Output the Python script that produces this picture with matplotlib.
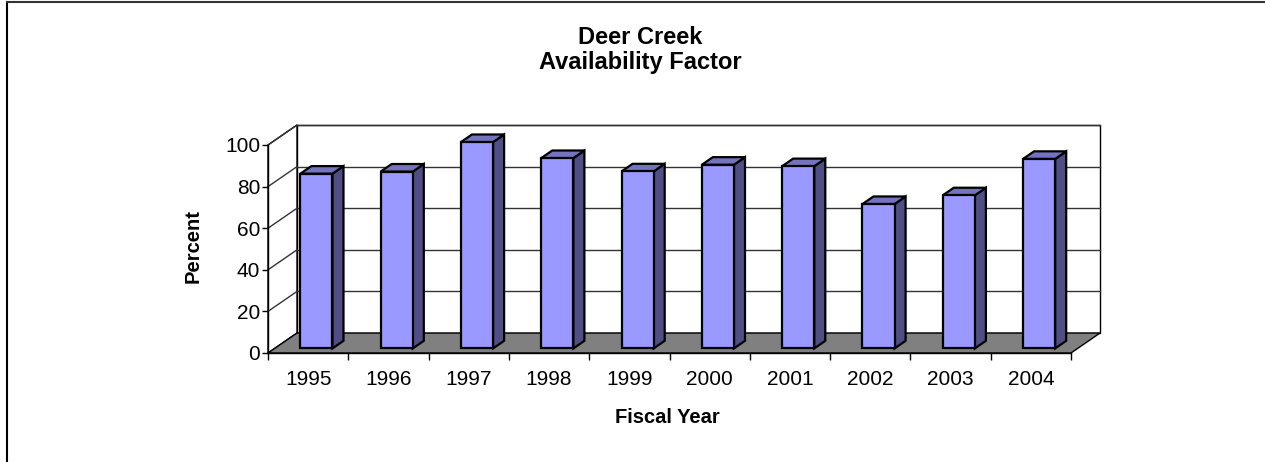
import matplotlib
matplotlib.use("Agg")
import matplotlib.pyplot as plt
from matplotlib.patches import Polygon
from matplotlib.lines import Line2D

# ---------------- DATA ----------------
years = ["1995", "1996", "1997", "1998", "1999", "2000", "2001", "2002", "2003", "2004"]
availability = [84.0, 85.0, 99.2, 91.5, 85.1, 88.3, 87.6, 69.4, 73.6, 91.1]
y_ticks = [0, 20, 40, 60, 80, 100]

title_1 = "Deer Creek"
title_2 = "Availability Factor"
x_title = "Fiscal Year"
y_title = "Percent"

# ---------------- STYLE ----------------
FRONT = "#9999ff"
TOP = "#7373bf"
SIDE = "#4f4f85"
FLOOR = "#808080"
GRID = "#333333"

DX = 0.361    # depth offset in category units
DY = 9.6      # depth offset in value units
D0, D1 = 0.23, 0.61   # bar depth (fraction of floor depth)
BAR_L, BAR_W = 0.32, 0.40

plt.rcParams["font.family"] = ["Liberation Sans", "DejaVu Sans"]

W, H = 1265, 462
fig = plt.figure(figsize=(W / 100, H / 100), dpi=100)
ax = fig.add_axes([268 / W, (H - 353) / H, 803 / W, 208 / H])
ax.set_facecolor("none")
ax.set_xlim(0, len(years))
ax.set_ylim(0, 100)


def proj(u, v, d):
    """oblique projection: category u, value v, depth d (0 front, 1 back)"""
    return (u + d * DX, v + d * DY)


def poly(pts, fc, z, lw=1.0, ec="black"):
    p = Polygon(pts, closed=True, facecolor=fc, edgecolor=ec, linewidth=lw,
                joinstyle="miter", clip_on=False, zorder=z)
    ax.add_patch(p)


n = len(years)
top_v = y_ticks[-1]

# back wall, side wall, floor
poly([proj(0, 0, 1), proj(n, 0, 1), proj(n, top_v, 1), proj(0, top_v, 1)], "white", 1, lw=1.0)
poly([proj(0, 0, 0), proj(0, 0, 1), proj(0, top_v, 1), proj(0, top_v, 0)], "white", 1, lw=1.0)
poly([proj(0, 0, 0), proj(n, 0, 0), proj(n, 0, 1), proj(0, 0, 1)], FLOOR, 2, lw=1.0)

# gridlines on back wall + side wall
for v in y_ticks[1:]:
    xs, ys = zip(proj(0, v, 1), proj(n, v, 1))
    ax.add_line(Line2D(xs, ys, color=GRID, lw=1.0, clip_on=False, zorder=1.5))
    xs, ys = zip(proj(0, v, 0), proj(0, v, 1))
    ax.add_line(Line2D(xs, ys, color=GRID, lw=1.0, clip_on=False, zorder=1.5))

# bars
for i, v in enumerate(availability):
    u0 = i + BAR_L
    u1 = u0 + BAR_W
    front = [proj(u0, 0, D0), proj(u1, 0, D0), proj(u1, v, D0), proj(u0, v, D0)]
    side = [proj(u1, 0, D0), proj(u1, 0, D1), proj(u1, v, D1), proj(u1, v, D0)]
    top = [proj(u0, v, D0), proj(u1, v, D0), proj(u1, v, D1), proj(u0, v, D1)]
    poly(side, SIDE, 5, lw=1.6)
    poly(top, TOP, 5, lw=1.6)
    poly(front, FRONT, 6, lw=1.6)

# axes / ticks
for s in ("top", "right"):
    ax.spines[s].set_visible(False)
for s in ("left", "bottom"):
    ax.spines[s].set_linewidth(1.0)
    ax.spines[s].set_zorder(3)

ax.set_yticks(y_ticks)
ax.set_yticklabels([str(t) for t in y_ticks])
ax.tick_params(axis="y", direction="out", length=4, width=1.0, pad=1.5, labelsize=15)

ax.set_xticks(range(n + 1))
ax.set_xticklabels([""] * (n + 1))
ax.set_xticks([i + 0.5 for i in range(n)], minor=True)
ax.set_xticklabels(years, minor=True)
ax.tick_params(axis="x", which="major", direction="out", length=5, width=1.0)
ax.tick_params(axis="x", which="minor", length=0, pad=12.5, labelsize=15)

# titles
fig.text(640 / W, 1 - 38 / H, title_1, ha="center", va="center", fontsize=17, fontweight="bold")
fig.text(640 / W, 1 - 62.5 / H, title_2, ha="center", va="center", fontsize=17, fontweight="bold")
fig.text(667 / W, 1 - 417.5 / H, x_title, ha="center", va="center", fontsize=14.5, fontweight="bold")
fig.text(193 / W, 1 - 246.5 / H, y_title, ha="center", va="center", rotation=90,
         fontsize=14.5, fontweight="bold")

# outer chart border (left + top visible)
fig.add_artist(Line2D([6.5 / W, 6.5 / W], [0, 1 - 1.5 / H], color="black", lw=1.5,
                      transform=fig.transFigure))
fig.add_artist(Line2D([6.5 / W, 1], [1 - 1.5 / H, 1 - 1.5 / H], color="#333333", lw=1.5,
                      transform=fig.transFigure))

fig.savefig("out.png", dpi=100)
